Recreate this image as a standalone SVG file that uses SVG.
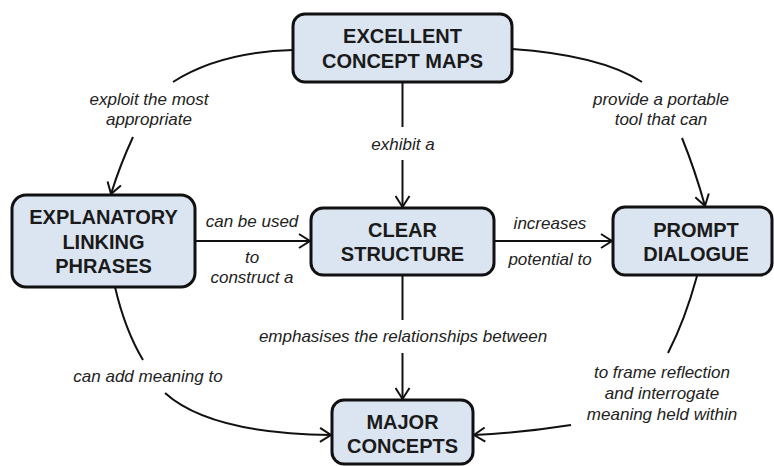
<svg xmlns="http://www.w3.org/2000/svg" width="774" height="466" viewBox="0 0 774 466">
<style>
.box{fill:#dbe5f1;stroke:#111;stroke-width:3}
.nt{font-family:"Liberation Sans",Arial,sans-serif;font-weight:bold;font-size:20px;fill:#1a1a1a;text-anchor:middle}
.lt{font-family:"Liberation Sans",Arial,sans-serif;font-style:italic;font-size:17px;fill:#222;text-anchor:middle}
.c{fill:none;stroke:#111;stroke-width:2}
</style>
<defs>
<marker id="ah" markerUnits="userSpaceOnUse" markerWidth="14" markerHeight="16" refX="12" refY="8" orient="auto" viewBox="0 0 14 16">
<path d="M1,1 L12,8 L1,15" fill="none" stroke="#111" stroke-width="2"/>
</marker>
</defs>
<rect width="774" height="466" fill="#fff"/>
<g id="connectors">
<path class="c" d="M293,50 Q220,52 173,82"/>
<path class="c" d="M133,137 Q120,165 111,194" marker-end="url(#ah)"/>
<path class="c" d="M512,49 Q600,55 642,82"/>
<path class="c" d="M682,138 Q695,170 705,206" marker-end="url(#ah)"/>
<path class="c" d="M402.5,82 L402.5,127"/>
<path class="c" d="M402.5,160 L402.5,207" marker-end="url(#ah)"/>
<path class="c" d="M195,241 L310,241" marker-end="url(#ah)"/>
<path class="c" d="M494,241 L612,241" marker-end="url(#ah)"/>
<path class="c" d="M402.5,275 L402.5,320"/>
<path class="c" d="M402.5,353 L402.5,399" marker-end="url(#ah)"/>
<path class="c" d="M115,287 Q125,330 143,360"/>
<path class="c" d="M165,393 C195,420 250,434 331,435" marker-end="url(#ah)"/>
<path class="c" d="M697,276 Q685,320 668,353"/>
<path class="c" d="M571,425 Q520,433 474,435" marker-end="url(#ah)"/>
<text class="lt" x="149" y="105">exploit the most</text>
<text class="lt" x="149" y="125">appropriate</text>
<text class="lt" x="661" y="105">provide a portable</text>
<text class="lt" x="661" y="125">tool that can</text>
<text class="lt" x="403" y="150">exhibit a</text>
<text class="lt" x="252" y="227">can be used</text>
<text class="lt" x="252" y="263">to</text>
<text class="lt" x="252" y="283">construct a</text>
<text class="lt" x="550" y="229">increases</text>
<text class="lt" x="550" y="265">potential to</text>
<text class="lt" x="403" y="342">emphasises the relationships between</text>
<text class="lt" x="148" y="382">can add meaning to</text>
<text class="lt" x="662" y="378">to frame reflection</text>
<text class="lt" x="662" y="399">and interrogate</text>
<text class="lt" x="662" y="420">meaning held within</text>
</g>
<g id="excellent-concept-maps">
<rect class="box" x="293" y="14" width="219" height="68" rx="12"/>
<text class="nt" x="402.5" y="43">EXCELLENT</text>
<text class="nt" x="402.5" y="68">CONCEPT MAPS</text>
</g>
<g id="explanatory-linking-phrases">
<rect class="box" x="12" y="195" width="183" height="92" rx="14"/>
<text class="nt" x="103.5" y="224">EXPLANATORY</text>
<text class="nt" x="103.5" y="249">LINKING</text>
<text class="nt" x="103.5" y="273">PHRASES</text>
</g>
<g id="clear-structure">
<rect class="box" x="311" y="208" width="183" height="67" rx="12"/>
<text class="nt" x="402.5" y="237">CLEAR</text>
<text class="nt" x="402.5" y="261">STRUCTURE</text>
</g>
<g id="prompt-dialogue">
<rect class="box" x="613" y="207" width="159" height="68" rx="12"/>
<text class="nt" x="696" y="237">PROMPT</text>
<text class="nt" x="696" y="261">DIALOGUE</text>
</g>
<g id="major-concepts">
<rect class="box" x="332" y="400" width="141" height="64" rx="12"/>
<text class="nt" x="402.5" y="429">MAJOR</text>
<text class="nt" x="402.5" y="453">CONCEPTS</text>
</g>
</svg>
